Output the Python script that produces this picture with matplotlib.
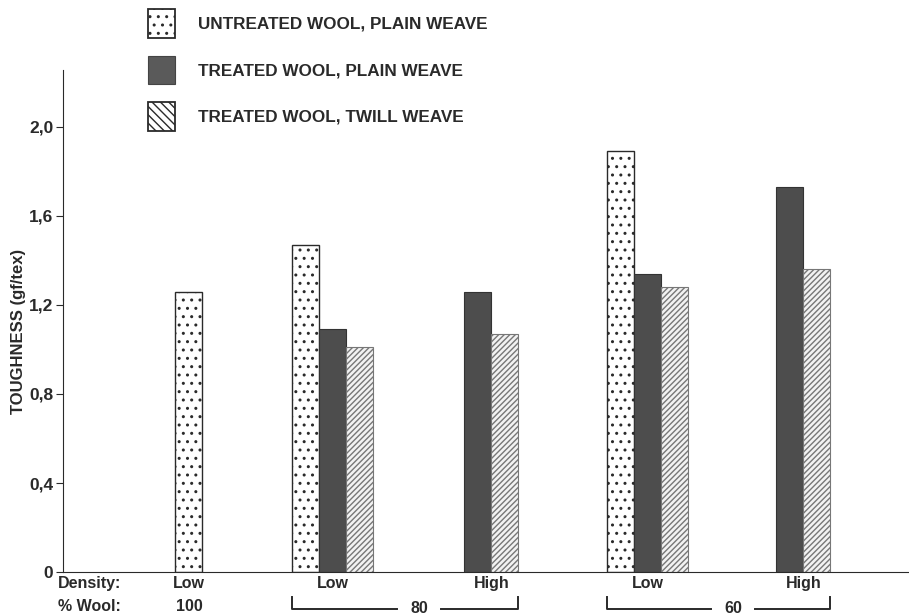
import numpy as np
import matplotlib
matplotlib.use("Agg")
import matplotlib.pyplot as plt
from matplotlib.patches import Patch

plt.rcParams['font.family'] = ['Liberation Sans', 'DejaVu Sans']
plt.rcParams['hatch.linewidth'] = 1.0

# ---- data ----
series = ["UNTREATED WOOL, PLAIN WEAVE", "TREATED WOOL, PLAIN WEAVE", "TREATED WOOL, TWILL WEAVE"]
density = ["Low", "Low", "High", "Low", "High"]
wool_pct = ["100", "80", "80", "60", "60"]
untreated = [1.26, 1.47, np.nan, 1.89, np.nan]
treated = [np.nan, 1.09, 1.26, 1.34, 1.73]
twill = [np.nan, 1.01, 1.07, 1.28, 1.36]
yticks = [0, 0.4, 0.8, 1.2, 1.6, 2.0]
ytick_labels = ["0", "0,4", "0,8", "1,2", "1,6", "2,0"]

# ---- layout (axis units: bar width = 27) ----
group_x = np.array([153, 270, 415, 585, 727])
bw = 27
ink = "#2a2a2a"

fig = plt.figure(figsize=(9.09, 6.16), dpi=100)
ax = fig.add_axes([0.0693, 0.0714, 0.9307, 0.8150])

ax.bar(group_x - bw, untreated, bw, color="white", edgecolor=ink, hatch="..", linewidth=1.0)
ax.bar(group_x, treated, bw, color="#4d4d4d", edgecolor="#333333", linewidth=0.8)
ax.bar(group_x + bw, twill, bw, color="#f2f2f2", edgecolor="#777777", hatch="//////", linewidth=0.8)

ax.set_xlim(0, 846)
ax.set_ylim(0, 2.256)
ax.spines['top'].set_visible(False)
ax.spines['right'].set_visible(False)
ax.spines['left'].set_color(ink)
ax.spines['bottom'].set_color(ink)
ax.set_xticks([])
ax.set_yticks(yticks)
ax.set_yticklabels(ytick_labels, fontsize=12.5, fontweight='bold', color=ink)
ax.tick_params(axis='y', direction='out', length=5, color=ink, pad=2)
ax.set_ylabel("TOUGHNESS (gf/tex)", fontsize=12, fontweight='bold', color=ink)
ax.yaxis.set_label_coords(-0.044, 0.48)

# density labels under each group (centered on the bars present)
trans = ax.get_xaxis_transform()
vals = np.array([untreated, treated, twill])
fs_bot = 11.5
y_den = -0.022
y_wool = -0.068
for i, lab in enumerate(density):
    present = [k for k in range(3) if not np.isnan(vals[k, i])]
    xs = [group_x[i] + (k - 1) * bw for k in present]
    cx = (min(xs) + max(xs)) / 2 if len(present) != 3 else group_x[i]
    ax.text(cx, y_den, lab, transform=trans, ha='center', va='center',
            fontsize=fs_bot, fontweight='bold', color=ink)

ax.text(-5, y_den, "Density:", transform=trans, ha='left', va='center',
        fontsize=fs_bot, fontweight='bold', color=ink)
ax.text(-5, y_wool, "% Wool:", transform=trans, ha='left', va='center',
        fontsize=fs_bot, fontweight='bold', color=ink)
ax.text(group_x[0] - bw, y_wool, wool_pct[0], transform=trans, ha='center', va='center',
        fontsize=fs_bot, fontweight='bold', color=ink)

# brackets for 80 and 60
for a, b in [(1, 2), (3, 4)]:
    x0 = group_x[a] - 1.5 * bw
    x1 = group_x[b] + 1.5 * bw
    mid = (x0 + x1) / 2 + 14
    ytop, ybot = -0.050, -0.074
    ax.plot([x0, x0, mid - 22], [ytop, ybot, ybot], transform=trans, color=ink,
            lw=1.4, clip_on=False)
    ax.plot([mid + 22, x1, x1], [ybot, ybot, ytop], transform=trans, color=ink,
            lw=1.4, clip_on=False)
    ax.text(mid, y_wool - 0.004, wool_pct[a], transform=trans, ha='center', va='center',
            fontsize=fs_bot, fontweight='bold', color=ink)

# legend
handles = [
    Patch(facecolor="white", edgecolor=ink, hatch="..", linewidth=1.3),
    Patch(facecolor="#5a5a5a", edgecolor="#444444", linewidth=0.8),
    Patch(facecolor="white", edgecolor=ink, hatch="\\\\\\\\", linewidth=1.3),
]
fig.legend(handles, series, loc='upper left', bbox_to_anchor=(0.146, 1.01),
           frameon=False, handlelength=1.6, handleheight=2.2, labelspacing=1.05,
           handletextpad=1.3, prop={'size': 12.3, 'weight': 'bold'}, labelcolor=ink)

fig.savefig("out.png", dpi=100)
